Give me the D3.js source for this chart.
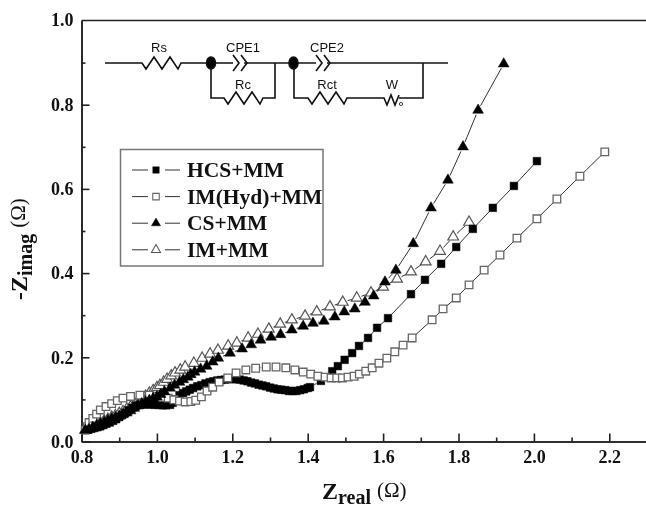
<!DOCTYPE html>
<html>
  <head>
    <meta charset="utf-8">
    <script src="https://d3js.org/d3.v7.min.js"></script>
    <title></title>
    <style>
    html, body { margin: 0; padding: 0; background: #fff; overflow: hidden; }
    svg { display: block; filter: blur(0.35px); }
    .tick line, .domain { stroke: #222; }
    .tick text { font-family: "Liberation Serif", serif; font-weight: bold; font-size: 18px; fill: #111; }
    .cct { font-family: "Liberation Sans Narrow", "Liberation Sans", sans-serif; font-size: 13px; fill: #111; text-anchor: middle; }
    .title { font-family: "Liberation Serif", serif; fill: #111; }
    </style>
  </head>
  <body>
    <script type="text/javascript">
      const xMajor = [0.8, 1.0, 1.2, 1.4, 1.6, 1.8, 2.0, 2.2]
      const xMinor = [0.9, 1.1, 1.3, 1.5, 1.7, 1.9, 2.1]
      const yMajor = [0.0, 0.2, 0.4, 0.6, 0.8, 1.0]
      const yMinor = [0.1, 0.3, 0.5, 0.7, 0.9]

      const seriesNames = ['HCS+MM', 'IM(Hyd)+MM', 'CS+MM', 'IM+MM']

      const hcsX = [0.81, 0.818, 0.826, 0.834, 0.842, 0.85, 0.858, 0.866, 0.875, 0.884, 0.892, 0.90, 0.908, 0.916, 0.925, 0.935, 0.945, 0.955, 0.965, 0.975, 0.985, 0.995, 1.005, 1.015, 1.025, 1.035, 1.042, 1.05, 1.06, 1.069, 1.078, 1.087, 1.096, 1.107, 1.118, 1.129, 1.14, 1.15, 1.16, 1.17, 1.18, 1.19, 1.2, 1.21, 1.22, 1.23, 1.24, 1.25, 1.26, 1.27, 1.28, 1.29, 1.30, 1.31, 1.32, 1.33, 1.34, 1.35, 1.36, 1.37, 1.38, 1.39, 1.40, 1.406, 1.435, 1.465, 1.48, 1.498, 1.518, 1.536, 1.56, 1.584, 1.613, 1.674, 1.711, 1.754, 1.794, 1.838, 1.891, 1.947, 2.008]
      const hcsY = [0.027, 0.028, 0.03, 0.032, 0.034, 0.036, 0.039, 0.042, 0.045, 0.049, 0.053, 0.058, 0.063, 0.068, 0.074, 0.08, 0.085, 0.087, 0.088, 0.088, 0.088, 0.087, 0.087, 0.086, 0.086, 0.087, 0.092, 0.1, 0.11, 0.115, 0.119, 0.123, 0.127, 0.131, 0.134, 0.138, 0.141, 0.143, 0.145, 0.146, 0.147, 0.148, 0.148, 0.148, 0.147, 0.145, 0.143, 0.14, 0.138, 0.135, 0.133, 0.131, 0.128, 0.126, 0.124, 0.123, 0.122, 0.12, 0.12, 0.12, 0.122, 0.124, 0.127, 0.129, 0.144, 0.167, 0.179, 0.194, 0.21, 0.227, 0.246, 0.27, 0.293, 0.35, 0.384, 0.422, 0.462, 0.505, 0.555, 0.607, 0.666]

      const hydX = [0.81, 0.815, 0.82, 0.83, 0.84, 0.85, 0.865, 0.88, 0.895, 0.91, 0.93, 0.955, 0.98, 1.0, 1.015, 1.03, 1.045, 1.06, 1.075, 1.09, 1.103, 1.118, 1.133, 1.148, 1.165, 1.188, 1.21, 1.236, 1.262, 1.29, 1.316, 1.342, 1.366, 1.388, 1.408, 1.427, 1.446, 1.462, 1.477, 1.492, 1.507, 1.523, 1.537, 1.554, 1.571, 1.589, 1.61, 1.631, 1.653, 1.677, 1.73, 1.759, 1.794, 1.828, 1.868, 1.91, 1.955, 2.008, 2.061, 2.122, 2.188]
      const hydY = [0.027, 0.035, 0.045, 0.055, 0.065, 0.075, 0.083, 0.09, 0.097, 0.103, 0.107, 0.11, 0.11, 0.107, 0.105, 0.103, 0.099, 0.096, 0.094, 0.095, 0.098, 0.106, 0.12, 0.129, 0.141, 0.151, 0.163, 0.17, 0.174, 0.177, 0.177, 0.175, 0.17, 0.165, 0.16, 0.155, 0.153, 0.151, 0.151, 0.151, 0.153, 0.155, 0.16, 0.167, 0.175, 0.186, 0.198, 0.213, 0.229, 0.246, 0.289, 0.315, 0.341, 0.372, 0.407, 0.443, 0.483, 0.529, 0.576, 0.63, 0.688]

      const csX = [0.81, 0.82, 0.83, 0.84, 0.85, 0.86, 0.87, 0.88, 0.89, 0.90, 0.91, 0.92, 0.93, 0.94, 0.95, 0.96, 0.97, 0.98, 0.99, 1.0, 1.01, 1.02, 1.035, 1.047, 1.06, 1.07, 1.082, 1.09, 1.1, 1.116, 1.132, 1.148, 1.163, 1.194, 1.226, 1.25, 1.275, 1.303, 1.328, 1.358, 1.388, 1.414, 1.443, 1.472, 1.497, 1.525, 1.552, 1.575, 1.605, 1.634, 1.68, 1.727, 1.772, 1.812, 1.852, 1.92]
      const csY = [0.027, 0.03, 0.034, 0.038, 0.042, 0.046, 0.05, 0.054, 0.057, 0.06, 0.064, 0.068, 0.073, 0.079, 0.085, 0.09, 0.094, 0.098, 0.102, 0.106, 0.112, 0.118, 0.127, 0.134, 0.141, 0.147, 0.153, 0.159, 0.165, 0.172, 0.179, 0.189, 0.198, 0.21, 0.22, 0.23, 0.241, 0.248, 0.254, 0.265, 0.274, 0.281, 0.286, 0.296, 0.308, 0.315, 0.331, 0.346, 0.379, 0.407, 0.47, 0.555, 0.621, 0.7, 0.787, 0.897]

      const imX = [0.81, 0.82, 0.83, 0.84, 0.85, 0.86, 0.87, 0.88, 0.89, 0.90, 0.91, 0.92, 0.93, 0.94, 0.947, 0.955, 0.963, 0.97, 0.98, 0.99, 1.0, 1.008, 1.018, 1.027, 1.038, 1.048, 1.062, 1.075, 1.098, 1.12, 1.141, 1.162, 1.189, 1.212, 1.242, 1.268, 1.297, 1.327, 1.358, 1.393, 1.424, 1.459, 1.493, 1.53, 1.568, 1.6, 1.637, 1.674, 1.713, 1.751, 1.786, 1.828]
      const imY = [0.027, 0.032, 0.036, 0.04, 0.044, 0.049, 0.053, 0.058, 0.062, 0.067, 0.071, 0.077, 0.082, 0.088, 0.092, 0.097, 0.103, 0.108, 0.115, 0.121, 0.128, 0.133, 0.141, 0.148, 0.156, 0.163, 0.17, 0.177, 0.186, 0.198, 0.208, 0.217, 0.227, 0.234, 0.246, 0.255, 0.267, 0.279, 0.289, 0.298, 0.308, 0.32, 0.331, 0.341, 0.353, 0.367, 0.386, 0.403, 0.427, 0.452, 0.486, 0.521]

      let w = 646
      let h = 505
      let x0 = 81.5
      let yTop = 20.5
      let yBot = 441.5

      let svg = d3.select('body').append('svg').attr('width', w).attr('height', h)

      let xScale = d3.scaleLinear().domain([0.8, 2.3]).range([x0, x0 + 377 * 1.5])
      let yScale = d3.scaleLinear().domain([0, 1]).range([yBot, yTop])

      // frame: left, bottom, top only
      let fmt = d3.format('.1f')
      svg.append('g').attr('transform', `translate(0, ${yBot})`)
        .call(d3.axisBottom(xScale).tickValues(xMinor).tickSizeInner(-4).tickSizeOuter(0).tickFormat(''))
        .selectAll('.domain, line').attr('stroke-width', 1.6)
      svg.append('g').attr('transform', `translate(0, ${yBot})`)
        .call(d3.axisBottom(xScale).tickValues(xMajor).tickSizeInner(-8).tickSizeOuter(0).tickPadding(9).tickFormat(fmt))
        .selectAll('.domain, line').attr('stroke-width', 1.6)
      svg.append('g').attr('transform', `translate(${x0}, 0)`)
        .call(d3.axisLeft(yScale).tickValues(yMinor).tickSizeInner(-4).tickSizeOuter(0).tickFormat(''))
        .selectAll('.domain, line').attr('stroke-width', 1.6)
      svg.append('g').attr('transform', `translate(${x0}, 0)`)
        .call(d3.axisLeft(yScale).tickValues(yMajor.filter(d => d < 1)).tickSizeInner(-8).tickSizeOuter(0).tickPadding(8).tickFormat(fmt))
        .selectAll('.domain, line').attr('stroke-width', 1.6)
      svg.append('line').attr('x1', x0).attr('x2', w).attr('y1', yTop).attr('y2', yTop)
        .attr('stroke', '#222').attr('stroke-width', 1.6)
      svg.append('text').attr('x', x0 - 8).attr('y', yTop).attr('dy', '0.32em').attr('text-anchor', 'end')
        .attr('class', 'title').style('font-weight', 'bold').style('font-size', '18px').text('1.0')

      // axis titles
      let xt = svg.append('text').attr('class', 'title').attr('x', 322).attr('y', 499).style('font-weight', 'bold')
      xt.append('tspan').style('font-size', '24px').text('Z')
      xt.append('tspan').style('font-size', '20px').attr('dy', 5).text('real')
      xt.append('tspan').style('font-size', '21px').style('font-weight', 'normal').attr('dy', -7).attr('dx', 6).text('(Ω)')

      let yt = svg.append('text').attr('class', 'title').style('font-weight', 'bold')
        .attr('transform', 'translate(27, 300) rotate(-90)')
      yt.append('tspan').style('font-size', '24px').text('-Z')
      yt.append('tspan').style('font-size', '20px').attr('dy', 5).text('imag')
      yt.append('tspan').style('font-size', '21px').style('font-weight', 'normal').attr('dy', -7).attr('dx', 6).text('(Ω)')

      // marker types, same order as seriesNames
      let squareD = d3.symbol().type(d3.symbolSquare).size(58)()
      let triD = d3.symbol().type(d3.symbolTriangle).size(50)()
      let styles = [
        { d: squareD, fill: '#000', stroke: '#000', sw: 0.5 },
        { d: squareD, fill: '#fff', stroke: '#666', sw: 1.3 },
        { d: triD, fill: '#000', stroke: '#000', sw: 0.5 },
        { d: triD, fill: '#fff', stroke: '#555', sw: 1.2 }
      ]
      let allX = [hcsX, hydX, csX, imX]
      let allY = [hcsY, hydY, csY, imY]

      // lines stop short of the symbols
      function segments(xs, ys, gap) {
        let out = []
        for (let i = 1; i < xs.length; i++) {
          let ax = xScale(xs[i - 1]), ay = yScale(ys[i - 1])
          let bx = xScale(xs[i]), by = yScale(ys[i])
          let len = Math.hypot(bx - ax, by - ay)
          if (len <= gap * 2) continue
          let ux = (bx - ax) / len, uy = (by - ay) / len
          out.push([ax + ux * gap, ay + uy * gap, bx - ux * gap, by - uy * gap])
        }
        return out
      }

      // paint order: IM at the back, black triangles last
      const drawOrder = [3, 0, 1, 2]
      drawOrder.forEach(s => {
        let g = svg.append('g').attr('class', 'series')
        g.selectAll('line').data(segments(allX[s], allY[s], 5)).enter().append('line')
          .attr('x1', d => d[0]).attr('y1', d => d[1]).attr('x2', d => d[2]).attr('y2', d => d[3])
          .attr('stroke', '#333').attr('stroke-width', 1)
        g.selectAll('path').data(allX[s]).enter().append('path')
          .attr('d', styles[s].d)
          .attr('transform', (d, i) => `translate(${xScale(d)}, ${yScale(allY[s][i])})`)
          .attr('fill', styles[s].fill)
          .attr('stroke', styles[s].stroke)
          .attr('stroke-width', styles[s].sw)
      })

      // legend
      let legend = svg.append('g')
      legend.append('rect').attr('x', 120.5).attr('y', 149.5).attr('width', 202.5).attr('height', 116.5)
        .attr('fill', '#fff').attr('stroke', '#777').attr('stroke-width', 1.5)
      seriesNames.forEach((name, s) => {
        let y = 170 + s * 26.6
        legend.append('line').attr('x1', 132).attr('x2', 148).attr('y1', y).attr('y2', y).attr('stroke', '#333')
        legend.append('line').attr('x1', 165).attr('x2', 180).attr('y1', y).attr('y2', y).attr('stroke', '#333')
        legend.append('path').attr('d', styles[s].d).attr('transform', `translate(156, ${y}) scale(0.85)`)
          .attr('fill', styles[s].fill).attr('stroke', styles[s].stroke).attr('stroke-width', styles[s].sw)
        legend.append('text').attr('class', 'title').attr('x', 187).attr('y', y + 7)
          .style('font-weight', 'bold').style('font-size', '21.5px').text(name)
      })

      // equivalent circuit inset
      let cct = svg.append('g').attr('fill', 'none').attr('stroke', '#111').attr('stroke-width', 1.6)
      function zig(x, y) {
        return `L${x},${y} l4,6 l8,-12 l8,12 l8,-12 l8,12 l3,-6`
      }
      cct.append('path').attr('d', `M105,63 ${zig(142, 63)} L233,63`)
      cct.append('path').attr('d', 'M233,55 l6,8 l-6,8 M241,55 l6,8 l-6,8')
      cct.append('path').attr('d', 'M244,63 L316,63')
      cct.append('path').attr('d', 'M316,55 l6,8 l-6,8 M324,55 l6,8 l-6,8')
      cct.append('path').attr('d', 'M327,63 L448,63')
      cct.append('path').attr('d', `M211,63 L211,98 ${zig(224, 98)} L275,98 L275,63`)
      cct.append('path').attr('d', `M294,63 L294,98 ${zig(308, 98)} L384,98 l3,7 l4,-10 l4,10 l4,-10 M399,98 L423,98 L423,63`)
      cct.append('circle').attr('cx', 401).attr('cy', 104).attr('r', 1.6).attr('stroke-width', 0.8)
      cct.selectAll('ellipse').data([211, 293.5]).enter().append('ellipse')
        .attr('cx', d => d).attr('cy', 63).attr('rx', 4.5).attr('ry', 6).attr('fill', '#000')
      let cctLabels = [['Rs', 159, 52], ['CPE1', 243, 52], ['CPE2', 327, 52], ['Rc', 243, 89], ['Rct', 327, 89], ['W', 392, 89]]
      svg.selectAll('text.cct').data(cctLabels).enter().append('text').attr('class', 'cct')
        .attr('x', d => d[1]).attr('y', d => d[2]).text(d => d[0])
    </script>
  </body>
</html>
